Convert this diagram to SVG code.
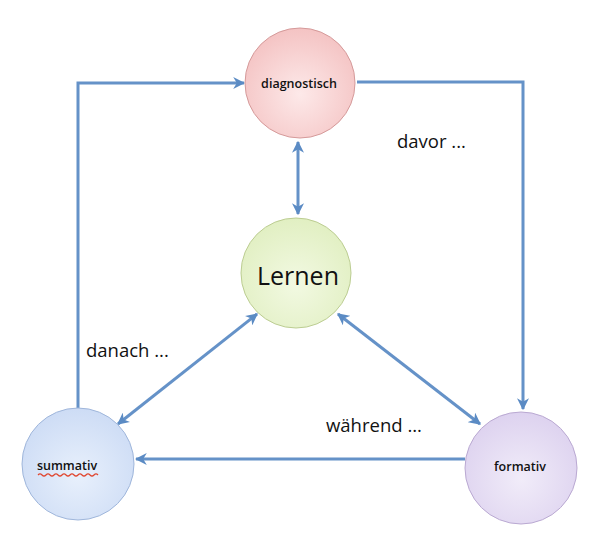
<svg xmlns="http://www.w3.org/2000/svg" width="590" height="542" viewBox="0 0 590 542">
<defs>
<radialGradient id="gRed" cx="50%" cy="60%" r="60%"><stop offset="0" stop-color="#fde9e9"/><stop offset="1" stop-color="#f4c3c3"/></radialGradient>
<radialGradient id="gGreen" cx="50%" cy="60%" r="60%"><stop offset="0" stop-color="#f2f9e2"/><stop offset="1" stop-color="#e1efc2"/></radialGradient>
<radialGradient id="gBlue" cx="50%" cy="60%" r="60%"><stop offset="0" stop-color="#e8f0fc"/><stop offset="1" stop-color="#cddcf5"/></radialGradient>
<radialGradient id="gPurple" cx="50%" cy="60%" r="60%"><stop offset="0" stop-color="#f1ecf9"/><stop offset="1" stop-color="#ddd2ef"/></radialGradient>
<marker id="ah" viewBox="0 0 10 10" refX="9" refY="5" markerWidth="4" markerHeight="4" orient="auto-start-reverse" markerUnits="strokeWidth">
<path d="M0,0 L10,5 L0,10 L3,5 Z" fill="#5b8bc4"/>
</marker>
<style>
.c{fill:none;stroke:#6592c8;stroke-width:3}
.t{font-family:"Open Sans","Liberation Sans",sans-serif;fill:#111}
.n{font-size:12.5px;text-anchor:middle;font-weight:600}
.l{font-size:18.5px}
</style>
</defs>
<g id="connectors">
<polyline class="c" points="78,408 78,83 244,83" marker-end="url(#ah)"/>
<polyline class="c" points="357,82 523,82 523,409" marker-end="url(#ah)"/>
<line class="c" x1="465" y1="459" x2="136" y2="459" marker-end="url(#ah)"/>
<line class="c" x1="298" y1="142" x2="298" y2="214" marker-start="url(#ah)" marker-end="url(#ah)"/>
<line class="c" x1="257" y1="314" x2="118" y2="424" marker-start="url(#ah)" marker-end="url(#ah)"/>
<line class="c" x1="338" y1="314" x2="480" y2="424" marker-start="url(#ah)" marker-end="url(#ah)"/>
</g>
<g id="diagnostisch">
<circle cx="300" cy="83" r="55" fill="url(#gRed)" stroke="#d59a9a" stroke-width="1"/>
<text class="t n" x="299" y="88">diagnostisch</text>
</g>
<g id="lernen">
<circle cx="296" cy="273" r="55" fill="url(#gGreen)" stroke="#bccd92" stroke-width="1"/>
<text class="t" x="298" y="285" font-size="25" text-anchor="middle">Lernen</text>
</g>
<g id="summativ">
<circle cx="78" cy="464" r="56" fill="url(#gBlue)" stroke="#9fb6db" stroke-width="1"/>
<text class="t n" x="67" y="470">summativ</text>
<path d="M38,475 Q40,473 42,475 T46,475 T50,475 T54,475 T58,475 T62,475 T66,475 T70,475 T74,475 T78,475 T82,475 T86,475 T90,475 T94,475 T98,475" fill="none" stroke="#e0452e" stroke-width="1.2"/>
</g>
<g id="formativ">
<circle cx="521" cy="468" r="56" fill="url(#gPurple)" stroke="#baa9d2" stroke-width="1"/>
<text class="t n" x="520" y="471">formativ</text>
</g>
<g id="labels">
<text class="t l" x="397" y="148">davor ...</text>
<text class="t l" x="86" y="357">danach ...</text>
<text class="t l" x="326" y="432">während ...</text>
</g>
</svg>
